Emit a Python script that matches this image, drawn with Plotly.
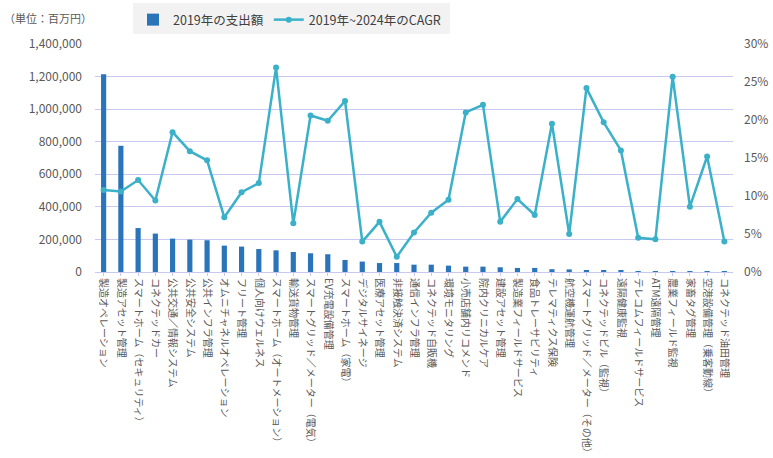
import plotly.graph_objects as go

categories = [
    "製造オペレーション", "製造アセット管理", "スマートホーム（セキュリティ）", "コネクテッドカー",
    "公共交通／情報システム", "公共安全システム", "公共インフラ管理", "オムニチャネルオペレーション",
    "フリート管理", "個人向けウェルネス", "スマートホーム（オートメーション）", "輸送貨物管理",
    "スマートグリッド／メーター（電気）", "EV充電設備管理", "スマートホーム（家電）", "デジタルサイネージ",
    "医療アセット管理", "非接触決済システム", "通信インフラ管理", "コネクテッド自販機",
    "環境モニタリング", "小売店舗内リコメンド", "院内クリニカルケア", "建設アセット管理",
    "製造業フィールドサービス", "食品トレーサビリティ", "テレマティクス保険", "航空機運航管理",
    "スマートグリッド／メーター（その他）", "コネクテッドビル（監視）", "遠隔健康監視",
    "テレコムフィールドサービス", "ATM遠隔管理", "農業フィールド監視", "家畜タグ管理",
    "空港設備管理（乗客動線）", "コネクテッド油田管理",
]

spending_2019 = [
    1215000, 775000, 270000, 236000, 205000, 199000, 195000, 162000,
    156000, 141000, 133000, 123000, 115000, 109000, 74000, 64000,
    55000, 55000, 45000, 45000, 39000, 33000, 33000, 29000,
    25000, 25000, 17000, 16000, 10000, 10000, 7000, 6000,
    5000, 4500, 4000, 3500, 3000,
]

cagr_2019_2024 = [
    10.8, 10.6, 12.1, 9.4, 18.4, 15.9, 14.7, 7.2,
    10.5, 11.7, 26.9, 6.4, 20.6, 19.9, 22.5, 4.0,
    6.6, 2.0, 5.2, 7.8, 9.5, 21.0, 22.0, 6.6,
    9.6, 7.5, 19.5, 5.0, 24.2, 19.7, 16.0, 4.5,
    4.3, 25.7, 8.6, 15.2, 4.0,
]

left_ticks = [0, 200000, 400000, 600000, 800000, 1000000, 1200000, 1400000]
right_ticks = [0, 5, 10, 15, 20, 25, 30]
right_labels = [f"{v}%" for v in right_ticks]

FONT = "Noto Sans CJK JP"
GRID = "#c8c8f2"
TXT = "#595959"

L, R, T, B = 95, 40, 44, 186
W, H = 773, 458
PW, PH = W - L - R, H - T - B


def px(x):
    return (x - L) / PW


def py(y):
    return (H - B - y) / PH


fig = go.Figure()
fig.add_trace(go.Bar(
    x=categories, y=spending_2019, name="2019年の支出額",
    marker=dict(color="#2A74BA", line=dict(width=0)), width=0.3,
))
fig.add_trace(go.Scatter(
    x=categories, y=cagr_2019_2024, name="2019年~2024年のCAGR", yaxis="y2",
    mode="lines+markers", line=dict(color="#3BB0C9", width=2.5),
    marker=dict(color="#3BB0C9", size=6),
))

fig.update_layout(
    width=W, height=H,
    margin=dict(l=L, r=R, t=T, b=B, autoexpand=False),
    paper_bgcolor="white", plot_bgcolor="white",
    font=dict(family=FONT, color=TXT, size=11),
    showlegend=True,
    legend=dict(
        orientation="h", x=px(133), y=py(5), xanchor="left", yanchor="top",
        bgcolor="rgba(0,0,0,0)", font=dict(size=12.5, color="#404040", family=FONT),
        itemwidth=30, borderwidth=0,
    ),
    xaxis=dict(
        tickangle=90, tickfont=dict(size=10, color=TXT), showgrid=False,
        showline=True, linecolor=GRID, ticks="outside", ticklen=3, tickcolor=GRID,
        range=[-0.5, len(categories) - 0.5], automargin=False,
    ),
    yaxis=dict(
        range=[0, 1400000], tickvals=left_ticks, tickformat=",",
        showgrid=True, gridcolor=GRID, gridwidth=1,
        zeroline=True, zerolinecolor=GRID, zerolinewidth=1,
        tickfont=dict(size=12, color=TXT), ticks="", automargin=False,
        ticklabelstandoff=12,
    ),
    yaxis2=dict(
        overlaying="y", side="right", range=[0, 30],
        tickmode="array", tickvals=right_ticks, ticktext=right_labels,
        showgrid=False, zeroline=False, automargin=False,
        tickfont=dict(size=12, color=TXT), ticklabelstandoff=10,
    ),
    shapes=[dict(
        type="rect", xref="paper", yref="paper", layer="below",
        x0=px(133), x1=px(450), y0=py(34), y1=py(3),
        fillcolor="#f2f2f2", line=dict(width=0),
    )],
    annotations=[dict(
        text="（単位：百万円）", x=px(2), y=py(18), xref="paper", yref="paper",
        xanchor="left", yanchor="middle", showarrow=False,
        font=dict(size=11, color=TXT, family=FONT),
    )],
)

fig.write_html(
    "out.html",
    config={"displayModeBar": False},
    post_script="document.body.style.margin='0';",
)
